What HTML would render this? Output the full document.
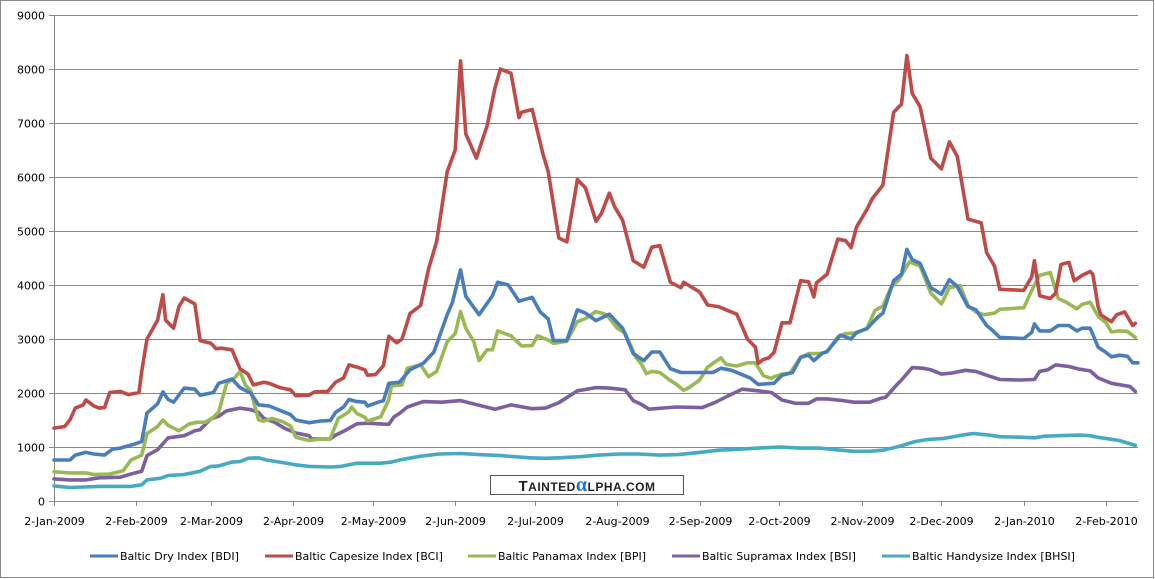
<!DOCTYPE html>
<html><head><meta charset="utf-8"><style>
html,body{margin:0;padding:0;background:#fff;}
svg{display:block;font-family:"DejaVu Sans","Liberation Sans",sans-serif;}
</style></head><body>
<svg id="chart" width="1155" height="579" viewBox="0 0 1155 579" xmlns="http://www.w3.org/2000/svg">
<rect x="0.5" y="0.5" width="1153" height="577" fill="#fff" stroke="#8a8a8a"/>
<g id="grid"></g>
<g id="yticks"></g>
<g id="xticks"></g>
<g id="series"></g>
<g>
<rect x="490.5" y="475.5" width="193" height="19" fill="#fff" stroke="#555"/>
<text x="587" y="491" text-anchor="middle" font-family="Liberation Sans, sans-serif" font-weight="bold" font-size="15" fill="#222" letter-spacing="0.5">T<tspan font-size="12">AINTED</tspan><tspan fill="#1f6fd0" font-size="20" font-family="Liberation Serif, serif">α</tspan><tspan font-size="12">LPHA.COM</tspan></text>
</g>
<g id="legend"></g>
</svg>
<script>
const tickLabels=["2-Jan-2009","2-Feb-2009","2-Mar-2009","2-Apr-2009","2-May-2009","2-Jun-2009","2-Jul-2009","2-Aug-2009","2-Sep-2009","2-Oct-2009","2-Nov-2009","2-Dec-2009","2-Jan-2010","2-Feb-2010"];
const tickDays=[0,31,59,90,120,151,181,212,243,273,304,334,365,396];
const yTicks=[0,1000,2000,3000,4000,5000,6000,7000,8000,9000];
const seriesNames=["Baltic Dry Index [BDI]","Baltic Capesize Index [BCI]","Baltic Panamax Index [BPI]","Baltic Supramax Index [BSI]","Baltic Handysize Index [BHSI]"];
const bdiDays=[0,6,8,12,15,19,22,25,30,33,35,39,41,43,45,49,53,55,60,62,67,70,74,77,81,85,89,91,96,100,104,106,109,111,114,117,118,122,124,126,130,134,139,143,148,150,153,155,160,165,167,171,175,180,183,186,188,193,197,200,204,209,214,218,222,225,228,232,236,248,251,255,262,265,271,274,278,281,284,286,289,291,296,300,302,306,310,312,316,319,321,323,326,330,334,337,340,344,347,351,353,356,365,368,369,371,375,378,382,385,387,390,393,396,398,401,404,406,408];
const bdiVals=[760,760,850,900,870,850,960,980,1050,1100,1630,1800,2020,1880,1830,2090,2070,1960,2010,2180,2260,2100,2000,1780,1760,1680,1600,1500,1450,1480,1490,1640,1740,1880,1840,1830,1760,1830,1860,2180,2200,2430,2550,2760,3450,3680,4280,3790,3450,3800,4050,4000,3700,3770,3500,3370,2970,2970,3540,3480,3340,3460,3200,2730,2600,2760,2760,2450,2380,2380,2460,2420,2280,2160,2180,2330,2380,2660,2700,2600,2730,2770,3070,3000,3120,3190,3400,3480,4080,4200,4660,4470,4400,3950,3830,4100,3970,3600,3540,3250,3170,3030,3010,3120,3280,3150,3150,3250,3250,3150,3200,3200,2850,2750,2670,2700,2680,2560,2560];
const bciDays=[0,4,6,8,11,12,15,17,19,21,25,28,32,33,35,39,41,42,45,47,49,53,55,59,61,63,67,68,70,73,75,79,81,85,89,91,96,98,103,106,109,111,114,117,118,121,123,124,126,129,131,134,138,141,144,148,151,153,155,159,163,166,168,172,175,176,180,184,186,190,193,197,200,204,206,209,211,214,218,222,225,228,232,236,237,243,246,250,257,261,264,265,267,269,271,274,277,281,284,286,287,291,295,298,300,302,306,308,312,316,319,321,323,326,330,334,337,340,344,349,351,354,356,365,368,369,371,375,377,379,382,384,387,390,391,393,394,398,400,403,406,407];
const bciVals=[1350,1380,1500,1720,1780,1870,1760,1720,1730,2010,2030,1970,2010,2400,3000,3350,3820,3350,3200,3600,3760,3650,2970,2920,2820,2830,2800,2680,2450,2350,2150,2200,2180,2100,2060,1950,1960,2020,2030,2200,2280,2520,2480,2430,2330,2340,2450,2510,3050,2930,3000,3470,3620,4300,4800,6100,6500,8150,6800,6350,6950,7650,8000,7920,7100,7200,7250,6430,6100,4870,4800,5950,5800,5180,5320,5700,5450,5200,4450,4330,4700,4730,4050,3950,4050,3870,3630,3600,3460,3000,2850,2550,2620,2650,2750,3300,3300,4080,4060,3780,4040,4200,4850,4820,4690,5070,5400,5600,5850,7200,7350,8250,7550,7300,6350,6150,6650,6380,5220,5150,4600,4350,3920,3900,4150,4450,3800,3750,3850,4380,4420,4080,4180,4250,4200,3600,3450,3320,3450,3500,3250,3290];
const bpiDays=[0,6,12,15,21,26,29,33,35,39,41,43,47,51,54,57,60,62,65,68,70,72,74,77,79,82,86,89,91,96,99,104,107,111,112,114,117,118,123,126,127,131,133,138,141,144,148,151,153,155,158,160,163,165,167,172,176,180,182,186,188,193,197,200,204,208,212,215,219,221,223,225,228,232,234,237,239,243,246,251,253,257,261,264,267,270,271,274,277,281,284,288,291,295,298,302,306,309,312,315,318,322,326,330,332,334,337,341,344,347,350,354,356,365,368,371,375,378,381,385,387,390,393,396,398,401,404,407];
const bpiVals=[540,520,520,490,500,560,760,850,1250,1380,1500,1400,1300,1430,1460,1460,1550,1650,2180,2280,2400,2150,2050,1500,1480,1530,1470,1390,1180,1120,1140,1160,1530,1650,1740,1620,1550,1480,1560,1880,2130,2150,2460,2520,2300,2400,2950,3100,3510,3200,2950,2600,2800,2800,3150,3060,2870,2880,3060,2980,2920,2960,3320,3380,3510,3450,3200,3110,2660,2540,2360,2400,2380,2230,2170,2050,2100,2240,2480,2650,2530,2500,2560,2560,2320,2270,2300,2350,2370,2660,2730,2730,2760,3040,3100,3110,3200,3530,3610,3950,4100,4430,4350,3850,3750,3650,3950,3990,3620,3500,3450,3480,3550,3580,3900,4180,4230,3750,3680,3560,3640,3680,3420,3300,3130,3150,3140,3030];
const bsiDays=[0,6,12,17,25,29,33,35,39,43,49,53,55,59,62,65,70,74,77,79,83,87,91,96,97,104,106,109,114,118,122,126,128,130,133,139,146,153,166,172,180,185,190,197,204,209,215,218,221,224,234,244,249,253,259,265,270,274,279,284,287,291,297,301,307,311,313,317,319,323,327,330,334,338,343,347,351,356,364,369,371,374,377,382,386,390,393,398,405,407];
const bsiVals=[410,390,390,430,440,500,550,840,950,1170,1210,1300,1320,1520,1570,1670,1720,1690,1640,1530,1460,1340,1260,1210,1150,1150,1220,1290,1430,1440,1430,1420,1560,1620,1740,1840,1830,1860,1700,1780,1710,1720,1820,2040,2100,2090,2060,1860,1790,1700,1740,1730,1830,1930,2070,2040,2010,1870,1810,1810,1890,1890,1860,1830,1830,1900,1920,2140,2240,2470,2460,2430,2350,2370,2420,2400,2330,2250,2240,2250,2400,2430,2520,2490,2440,2410,2280,2180,2120,2030];
const bhsiDays=[0,6,17,29,33,35,40,43,49,55,59,62,67,70,73,77,80,85,91,96,104,108,114,123,127,130,138,145,153,160,168,179,185,190,198,205,213,220,228,235,243,250,258,265,273,281,288,296,301,307,312,318,324,329,335,343,346,352,356,365,369,373,378,386,390,393,401,407];
const bhsiVals=[280,250,270,270,300,390,420,470,490,550,640,650,720,730,790,800,760,720,670,640,630,640,700,700,720,760,830,870,880,860,840,800,790,800,820,850,870,870,850,860,900,940,960,980,1000,980,980,940,920,920,940,1010,1100,1140,1160,1230,1250,1220,1190,1180,1170,1200,1210,1220,1210,1180,1120,1030];
const colors=["#4a7ebb","#be4b48","#98b954","#7d60a0","#46aac5"];
const NS="http://www.w3.org/2000/svg";
const X0=54,X1=1138,Y0=501,Y1=15,DAYS=408,YMAX=9000;
const xs=d=>X0+(d/DAYS)*(X1-X0);
const ys=v=>Y0-(v/YMAX)*(Y0-Y1);
function mk(tag,attrs,parent){const e=document.createElementNS(NS,tag);for(const k in attrs)e.setAttribute(k,attrs[k]);parent.appendChild(e);return e;}
const grid=document.getElementById('grid'),yt=document.getElementById('yticks'),xt=document.getElementById('xticks'),ser=document.getElementById('series'),leg=document.getElementById('legend');
yTicks.forEach(v=>{
  const y=Math.round(ys(v))+0.5;
  if(v>0){const l=mk('line',{x1:X0,x2:X1,y1:y,y2:y,stroke:'#868686','stroke-width':1},grid);
  
  }
  mk('line',{x1:X0-5,x2:X0,y1:y,y2:y,stroke:'#868686'},yt);
  const t=mk('text',{x:X0-9,y:y+4,'text-anchor':'end','font-size':11,fill:'#000'},yt);t.textContent=v;
  
  
});
mk('line',{x1:X0+0.5,x2:X0+0.5,y1:Y1,y2:Y0,stroke:'#868686'},yt);
mk('line',{x1:X0,x2:X1,y1:Y0+0.5,y2:Y0+0.5,stroke:'#868686'},xt);
tickDays.forEach((d,i)=>{
  const x=Math.round(xs(d))+0.5;
  mk('line',{x1:x,x2:x,y1:Y0,y2:Y0+5,stroke:'#868686'},xt);
  const t=mk('text',{x:x,y:525,'text-anchor':'middle','font-size':11,fill:'#000'},xt);t.textContent=tickLabels[i];
  
  
});
const allDays=[bdiDays,bciDays,bpiDays,bsiDays,bhsiDays],allVals=[bdiVals,bciVals,bpiVals,bsiVals,bhsiVals];
const order=[4,3,2,0,1];
order.forEach(i=>{
  const pts=allDays[i].map((d,j)=>xs(d).toFixed(1)+','+ys(allVals[i][j]).toFixed(1)).join(' ');
  const p=mk('polyline',{points:pts,fill:'none',stroke:colors[i],'stroke-width':3.6,'stroke-linejoin':'round','stroke-linecap':'round'},ser);
  
  
});
const legX=[90,265,468,672,882];
seriesNames.forEach((n,i)=>{
  const g=mk('g',{},leg);
  
  
  mk('line',{x1:legX[i],x2:legX[i]+28,y1:556,y2:556,stroke:colors[i],'stroke-width':3},g);
  const t=mk('text',{x:legX[i]+30,y:560,'font-size':11,fill:'#000'},g);t.textContent=n;
});
</script>
</body></html>
